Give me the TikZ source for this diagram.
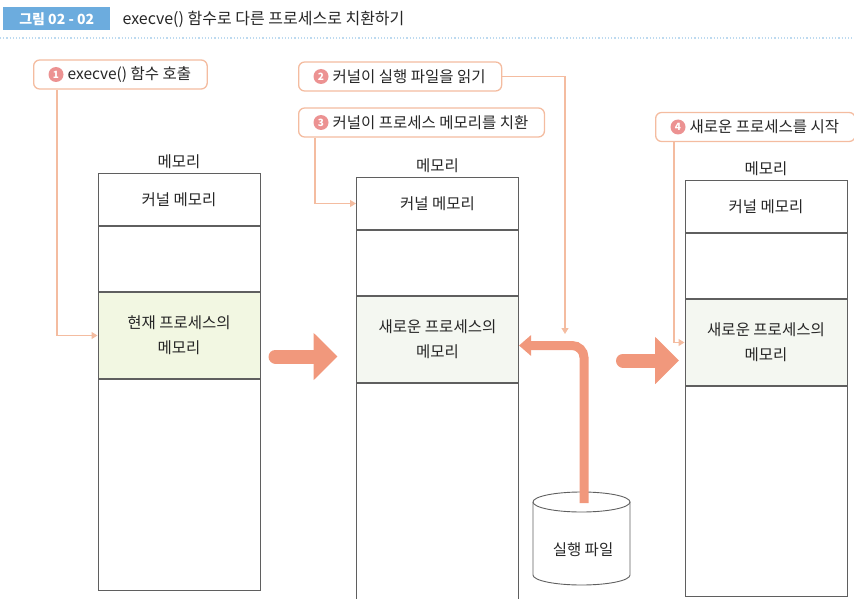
\documentclass[tikz,border=0pt]{standalone}
\usepackage{fontspec}
\setmainfont{Noto Sans CJK KR}
\usetikzlibrary{positioning, calc}
\usetikzlibrary{arrows.meta}
\definecolor{salmon}{RGB}{241,152,124}
\definecolor{callline}{RGB}{244,188,160}
\definecolor{numpink}{RGB}{236,146,146}
\definecolor{titleblue}{RGB}{108,172,222}
\definecolor{procgreen}{RGB}{242,247,226}
\definecolor{procpale}{RGB}{244,247,241}
\definecolor{memline}{RGB}{95,95,95}

\tikzset{
  memrow/.style={draw=memline, line width=1pt, minimum width=162pt, inner sep=0pt, align=center, anchor=north},
  callout/.style={draw=callline, line width=1.3pt, rounded corners=6pt, fill=white, minimum height=29pt, inner xsep=16pt, anchor=west},
  stepdot/.style={circle, fill=numpink, text=white, inner sep=0pt, minimum size=15pt, font=\fontsize{10}{10}\selectfont\bfseries},
  callarrow/.style={callline, line width=1.2pt, -{Triangle[length=6pt,width=7pt]}},
  bigarrow/.style={salmon, line width=14pt, line cap=round, -{Triangle[length=24pt,width=46pt]}},
}

\begin{document}
\begin{tikzpicture}[x=1pt,y=-1pt,font=\fontsize{15.5}{25}\selectfont, text=black!85]
\useasboundingbox (0,0) rectangle (854,599);

% --- Titolo
\node[fill=titleblue, text=white, font=\fontsize{14}{16}\selectfont\bfseries, minimum width=107pt, minimum height=23pt, anchor=west] (fig) at (3,19) {그림 02 - 02};
\node[anchor=west, font=\fontsize{16}{18}\selectfont] (title) at (119,19) {execve() 함수로 다른 프로세스로 치환하기};
\draw[titleblue!45, dotted, line width=1.2pt] (0,38) -- (854,38);

% --- Colonne di memoria
\foreach \i/\cx/\top/\rh/\txt/\pf in {1/179/173/211/{현재 프로세스의\\메모리}/procgreen,
                                      2/437.5/177/226/{새로운 프로세스의\\메모리}/procpale,
                                      3/766/180/210/{새로운 프로세스의\\메모리}/procpale}{
  \node[memrow, minimum height=52pt] (k\i) at (\cx,\top) {커널 메모리};
  \node[memrow, minimum height=65pt, below=0pt of k\i] (e\i) {};
  \node[memrow, minimum height=86pt, fill=\pf, below=0pt of e\i] (p\i) {\txt};
  \node[memrow, minimum height=\rh pt, below=0pt of p\i] (r\i) {};
  \node[above=1pt of k\i] (m\i) {메모리};
}

% --- File eseguibile (cilindro)
\draw[memline, line width=0.9pt] (533,502) -- (533,575) arc (180:0:48.5 and 10) -- (630,502);
\draw[memline, line width=0.9pt] (581.5,502) ellipse (48.5 and 10);
\coordinate (exe) at (584,503);
\node (exetxt) at (583,550) {실행 파일};

% --- Callout
\node[callout] (c1) at (33,74.5) {\hspace{18pt}execve() 함수 호출};
\node[callout] (c2) at (298,76.5) {\hspace{18pt}커널이 실행 파일을 읽기};
\node[callout] (c3) at (298,122.5) {\hspace{18pt}커널이 프로세스 메모리를 치환};
\node[callout] (c4) at (655,127) {\hspace{18pt}새로운 프로세스를 시작};
\foreach \i in {1,...,4}{
  \node[stepdot] (n\i) at ($(c\i.west)+(23,0)$) {\i};
}

% --- Frecce dei callout
\coordinate (h2) at (565,334);
\draw[callarrow] ($(c1.south west)+(24,0)$) |- (p1.west);
\draw[callarrow] (c2.east) -| (h2);
\draw[callarrow] ($(c3.south west)+(17,0)$) |- (k2.west);
\draw[callarrow] ($(c4.south west)+(19,0)$) |- (p3.west);

% --- Frecce grandi
\draw[bigarrow] ($(p1.east)+(15,21)$) -- +(62,0);
\draw[bigarrow] ($(p2.east)+(104,21)$) -- +(56,0);
\draw[salmon, line width=9pt, rounded corners=12pt, -{Triangle[length=12pt,width=20pt]}]
  (exe) |- ($(p2.east)+(0,6)$);

\end{tikzpicture}
\end{document}
